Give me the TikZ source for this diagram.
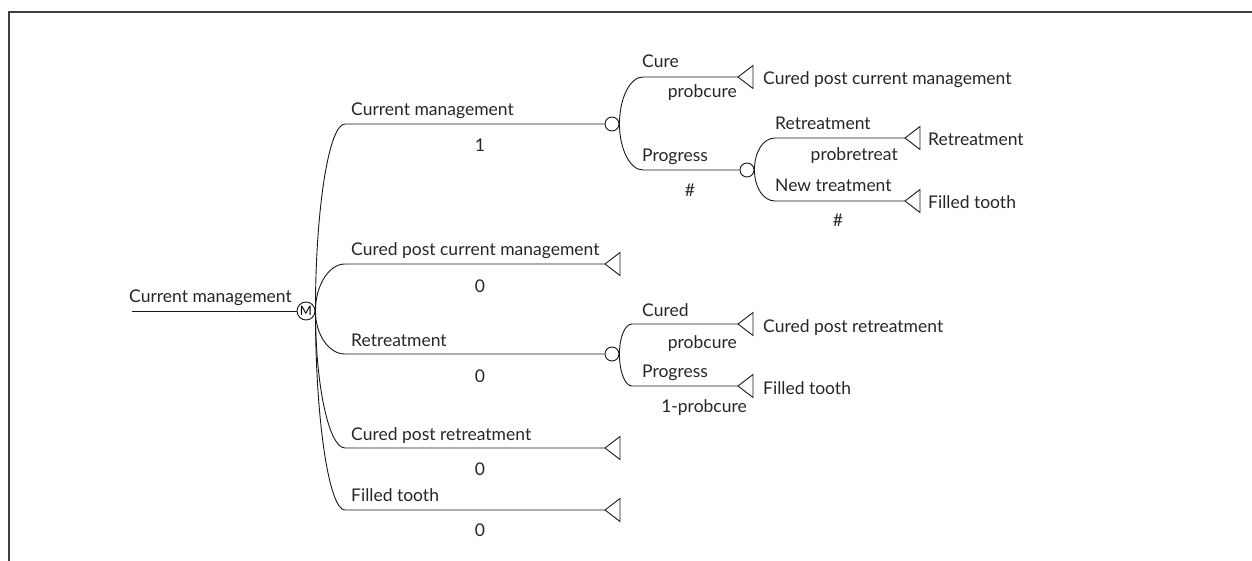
\documentclass[tikz,border=0pt]{standalone}
\usepackage{fontspec}
\setmainfont{Lato}
\begin{document}
\begin{tikzpicture}[x=1pt,y=-1pt,
  line/.style={line width=0.9pt, draw=black!90},
  frame/.style={line width=1.4pt, draw=black!75},
  lbl/.style={anchor=base west, inner sep=0pt, font=\fontsize{17.5}{20}\selectfont, text=black!85},
  val/.style={anchor=base, inner sep=0pt, font=\fontsize{17.5}{20}\selectfont, text=black!85},
  vale/.style={anchor=base east, inner sep=0pt, font=\fontsize{17.5}{20}\selectfont, text=black!85},
  chance/.style={circle, draw=black!90, line width=0.9pt, fill=white, minimum size=14pt, inner sep=0pt},
  markov/.style={circle, draw=black!90, line width=0.9pt, fill=white, minimum size=18pt, inner sep=0pt, font=\fontsize{13}{13}\selectfont}
]
\useasboundingbox (0,0) rectangle (1252,561);
\newcommand\termtri[1]{\draw[line, line join=miter] (#1) -- ++(15,-11.5) -- ++(0,23) -- cycle;}
% frame
\draw[frame] (9,561) -- (9,12) -- (1252,12);

% root
\coordinate (root) at (132,311);
\node[markov] (M) at (306,311) {M};
\node[lbl] (lroot) at (129,302) {Current management};
\draw[line] (root) -- (M.west);

% branch start points
\coordinate (bA) at (345,124);
\coordinate (bB) at (345,264);
\coordinate (bC) at (345,354);
\coordinate (bD) at (345,448);
\coordinate (bE) at (345,510);

% chance nodes
\node[chance] (c1) at (612,124) {};
\node[chance] (c2) at (747,170) {};
\node[chance] (c3) at (612,354) {};

% terminal tips
\coordinate (tB) at (605,264);
\coordinate (tD) at (605,448);
\coordinate (tE) at (605,510);
\coordinate (tCure) at (738,77);
\coordinate (tRet) at (905,138);
\coordinate (tNew) at (905,201);
\coordinate (tCured) at (738,324);
\coordinate (tProg) at (738,386);

% decision branches
\draw[line] (M.east) .. controls +(0,-103) and +(-16,0) .. (bA) -- (c1.west);
\draw[line] (M.east) .. controls +(0,-26) and +(-16,0) .. (bB) -- (tB);
\draw[line] (M.east) .. controls +(0,24) and +(-16,0) .. (bC) -- (c3.west);
\draw[line] (M.east) .. controls +(0,75) and +(-16,0) .. (bD) -- (tD);
\draw[line] (M.east) .. controls +(0,109) and +(-16,0) .. (bE) -- (tE);

% chance 1 branches
\coordinate (bCure) at (643,77);
\coordinate (bProg1) at (643,170);
\draw[line] (c1.east) .. controls +(0,-26) and +(-13,0) .. (bCure) -- (tCure);
\draw[line] (c1.east) .. controls +(0,25) and +(-13,0) .. (bProg1) -- (c2.west);

% chance 2 branches
\coordinate (bRet) at (775,138);
\coordinate (bNew) at (775,201);
\draw[line] (c2.east) .. controls +(0,-18) and +(-12,0) .. (bRet) -- (tRet);
\draw[line] (c2.east) .. controls +(0,17) and +(-12,0) .. (bNew) -- (tNew);

% chance 3 branches
\coordinate (bCured) at (632,324);
\coordinate (bProg3) at (632,386);
\draw[line] (c3.east) .. controls +(0,-17) and +(-7,0) .. (bCured) -- (tCured);
\draw[line] (c3.east) .. controls +(0,18) and +(-7,0) .. (bProg3) -- (tProg);

% terminal triangles
\termtri{tB}
\termtri{tD}
\termtri{tE}
\termtri{tCure}
\termtri{tRet}
\termtri{tNew}
\termtri{tCured}
\termtri{tProg}

% decision branch labels
\node[lbl] (lA) at (351,116) {Current management};
\node[val] (vA) at (480,152) {1};
\node[lbl] (lB) at (351,256) {Cured post current management};
\node[val] (vB) at (480,292) {0};
\node[lbl] (lC) at (351,346) {Retreatment};
\node[val] (vC) at (480,382) {0};
\node[lbl] (lD) at (351,440) {Cured post retreatment};
\node[val] (vD) at (480,475) {0};
\node[lbl] (lE) at (351,501) {Filled tooth};
\node[val] (vE) at (480,536) {0};

% chance 1 labels
\node[lbl] (lCure) at (642,68) {Cure};
\node[vale] (vCure) at (737,98) {probcure};
\node[lbl] (lProg1) at (642,162) {Progress};
\node[val] (vProg1) at (690,197) {\#};

% chance 2 labels
\node[lbl] (lRet) at (775,130) {Retreatment};
\node[vale] (vRet) at (898,161) {probretreat};
\node[lbl] (lNew) at (775,192) {New treatment};
\node[val] (vNew) at (838,227) {\#};

% chance 3 labels
\node[lbl] (lCured) at (642,316) {Cured};
\node[vale] (vCured) at (737,348) {probcure};
\node[lbl] (lProg3) at (642,377) {Progress};
\node[vale] (vProg3) at (747,412) {1-probcure};

% terminal labels
\node[lbl] (eCure) at (763,85) {Cured post current management};
\node[lbl] (eRet) at (928,146) {Retreatment};
\node[lbl] (eNew) at (928,209) {Filled tooth};
\node[lbl] (eCured) at (763,332) {Cured post retreatment};
\node[lbl] (eProg) at (763,394) {Filled tooth};
\end{tikzpicture}
\end{document}
